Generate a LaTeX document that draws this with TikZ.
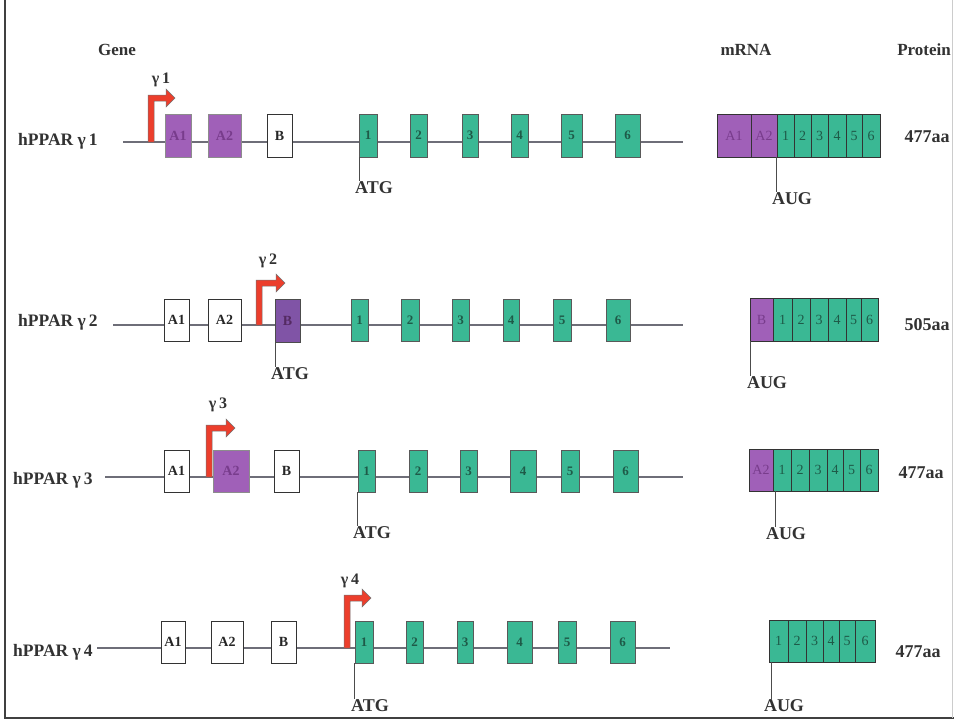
\documentclass[tikz,border=0pt]{standalone}
\usepackage{fontspec}
\setmainfont{Liberation Serif}
\usetikzlibrary{arrows.meta}
\definecolor{exteal}{RGB}{58,184,148}
\definecolor{extealtxt}{RGB}{30,90,72}
\definecolor{expurple}{RGB}{160,96,184}
\definecolor{expurpletxt}{RGB}{120,60,140}
\definecolor{exdpurple}{RGB}{128,84,166}
\definecolor{promred}{RGB}{236,62,44}
\definecolor{inktext}{RGB}{50,50,50}
\definecolor{geneline}{RGB}{110,110,120}
\newcommand\boxat[7]{\node[#6, minimum width={(#3)-(#2)}, minimum height={(#5)-(#4)}] (#1) at ({((#2)+(#3))/2},{((#4)+(#5))/2}) {#7};}
\newcommand\promarrow[4]{\filldraw[promred, draw=black!55, line width=0.5pt]
  ({#1-3},#2) -- ({#1-3},{#3-3}) -- ({#4-9},{#3-3}) -- ({#4-9},{#3-9}) -- (#4,#3)
  -- ({#4-9},{#3+9}) -- ({#4-9},{#3+3}) -- ({#1+3},{#3+3}) -- ({#1+3},#2) -- cycle;}
\tikzset{
  exon/.style={draw=black!65, fill=exteal, line width=0.6pt, inner sep=0pt,
    font=\fontsize{13}{13}\selectfont\bfseries, text=extealtxt},
  pexon/.style={draw=black!45, fill=expurple, line width=0.6pt, inner sep=0pt,
    font=\fontsize{14}{14}\selectfont\bfseries, text=expurpletxt},
  dpexon/.style={draw=black!70, fill=exdpurple, line width=0.8pt, inner sep=0pt,
    font=\fontsize{14}{14}\selectfont\bfseries, text=expurpletxt!70!black},
  wexon/.style={draw=black!80, fill=white, line width=0.7pt, inner sep=0pt,
    font=\fontsize{14}{14}\selectfont\bfseries, text=black!85},
  mseg/.style={draw=black!80, fill=exteal, line width=0.7pt, inner sep=0pt,
    font=\fontsize{14}{14}\selectfont, text=extealtxt},
  mpseg/.style={draw=black!80, fill=expurple, line width=0.7pt, inner sep=0pt,
    font=\fontsize{14}{14}\selectfont, text=expurpletxt},
  gline/.style={geneline, line width=1.1pt},
  tick/.style={black!70, line width=0.6pt},
  rowlabel/.style={anchor=west, inner sep=0pt, text=inktext, font=\fontsize{17.5}{19}\selectfont\bfseries},
  head/.style={inner sep=0pt, text=inktext, font=\fontsize{17}{19}\selectfont\bfseries},
  codon/.style={inner sep=0pt, anchor=north, text=inktext, font=\fontsize{18}{20}\selectfont\bfseries},
  prom/.style={inner sep=0pt, text=inktext, font=\fontsize{16}{18}\selectfont\bfseries},
  aa/.style={inner sep=0pt, text=inktext, font=\fontsize{18}{20}\selectfont\bfseries}
}
\begin{document}
\begin{tikzpicture}[x=1pt,y=-1pt]
\useasboundingbox (0,0) rectangle (954,721);
\fill[white] (0,0) rectangle (954,721);
% frame
\draw[black!75, line width=1.2pt] (5,0) -- (5,718) -- (954,718);
\draw[black!20, line width=0.8pt] (952.5,0) -- (952.5,718);

% headers
\node[head] (hgene) at (117,50) {Gene};
\node[head] (hmrna) at (746,50) {mRNA};
\node[head] (hprot) at (924,50) {Protein};

% ================= Row 1 =================
\node[rowlabel] (lab1) at (18,141) {hPPAR γ\,1};
\coordinate (r1s) at (123,142);
\coordinate (r1t) at (683,142);
\draw[gline] (r1s) -- (r1t);
\promarrow{151}{142}{98}{175}
\node[prom] (g1) at (161,80) {γ\,1};
\boxat{r1A1}{165}{191}{114}{157}{pexon}{A1}
\boxat{r1A2}{208}{241}{114}{157}{pexon}{A2}
\boxat{r1B}{267}{292}{114}{157}{wexon}{B}
\boxat{r1e1}{359}{377}{114}{157}{exon}{1}
\boxat{r1e2}{410}{427}{114}{157}{exon}{2}
\boxat{r1e3}{462}{478}{114}{157}{exon}{3}
\boxat{r1e4}{511}{528}{114}{157}{exon}{4}
\boxat{r1e5}{561}{582}{114}{157}{exon}{5}
\boxat{r1e6}{615}{640}{114}{157}{exon}{6}
\node[codon] (r1atg) at (374,181) {ATG};
\draw[tick] ([xshift=1pt]r1e1.south west) -- ([xshift=1pt]r1e1.south west |- r1atg.north);
\boxat{r1mA1}{717}{751}{114}{157}{mpseg}{A1}
\boxat{r1mA2}{751}{777}{114}{157}{mpseg}{A2}
\boxat{r1m1}{777}{794}{114}{157}{mseg}{1}
\boxat{r1m2}{794}{811}{114}{157}{mseg}{2}
\boxat{r1m3}{811}{828}{114}{157}{mseg}{3}
\boxat{r1m4}{828}{846}{114}{157}{mseg}{4}
\boxat{r1m5}{846}{862}{114}{157}{mseg}{5}
\boxat{r1m6}{862}{880}{114}{157}{mseg}{6}
\node[codon] (r1aug) at (792,192) {AUG};
\draw[tick] (r1m1.south west) -- (r1m1.south west |- r1aug.north);
\node[aa] (r1aa) at (927,137) {477aa};

% ================= Row 2 =================
\node[rowlabel] (lab2) at (18,322) {hPPAR γ\,2};
\coordinate (r2s) at (113,325);
\coordinate (r2t) at (683,325);
\draw[gline] (r2s) -- (r2t);
\boxat{r2A1}{164}{189}{299}{341}{wexon}{A1}
\boxat{r2A2}{208}{241}{299}{341}{wexon}{A2}
\promarrow{259}{325}{283}{285}
\node[prom] (g2) at (268,261) {γ\,2};
\boxat{r2B}{275}{300}{299}{342}{dpexon}{B}
\boxat{r2e1}{351}{368}{299}{341}{exon}{1}
\boxat{r2e2}{401}{419}{299}{341}{exon}{2}
\boxat{r2e3}{452}{469}{299}{341}{exon}{3}
\boxat{r2e4}{503}{519}{299}{341}{exon}{4}
\boxat{r2e5}{553}{571}{299}{341}{exon}{5}
\boxat{r2e6}{606}{630}{299}{341}{exon}{6}
\node[codon] (r2atg) at (290,367) {ATG};
\draw[tick] ([xshift=1pt]r2B.south west) -- ([xshift=1pt]r2B.south west |- r2atg.north);
\boxat{r2mB}{750}{773}{298}{341}{mpseg}{B}
\boxat{r2m1}{773}{792}{298}{341}{mseg}{1}
\boxat{r2m2}{792}{810}{298}{341}{mseg}{2}
\boxat{r2m3}{810}{828}{298}{341}{mseg}{3}
\boxat{r2m4}{828}{846}{298}{341}{mseg}{4}
\boxat{r2m5}{846}{861}{298}{341}{mseg}{5}
\boxat{r2m6}{861}{878}{298}{341}{mseg}{6}
\node[codon] (r2aug) at (767,376) {AUG};
\draw[tick] ([xshift=1pt]r2mB.south west) -- ([xshift=1pt]r2mB.south west |- r2aug.north);
\node[aa] (r2aa) at (927,325) {505aa};

% ================= Row 3 =================
\node[rowlabel] (lab3) at (13,480) {hPPAR γ\,3};
\coordinate (r3s) at (105,477);
\coordinate (r3t) at (683,477);
\draw[gline] (r3s) -- (r3t);
\boxat{r3A1}{164}{189}{450}{492}{wexon}{A1}
\promarrow{209}{477}{428}{235}
\node[prom] (g3) at (218,405) {γ\,3};
\boxat{r3A2}{213}{249}{450}{492}{pexon}{A2}
\boxat{r3B}{274}{299}{450}{492}{wexon}{B}
\boxat{r3e1}{358}{375}{450}{492}{exon}{1}
\boxat{r3e2}{409}{427}{450}{492}{exon}{2}
\boxat{r3e3}{460}{477}{450}{492}{exon}{3}
\boxat{r3e4}{510}{536}{450}{492}{exon}{4}
\boxat{r3e5}{561}{579}{450}{492}{exon}{5}
\boxat{r3e6}{613}{638}{450}{492}{exon}{6}
\node[codon] (r3atg) at (372,526) {ATG};
\draw[tick] (r3e1.south west) -- (r3e1.south west |- r3atg.north);
\boxat{r3mA2}{749}{773}{449}{491}{mpseg}{A2}
\boxat{r3m1}{773}{791}{449}{491}{mseg}{1}
\boxat{r3m2}{791}{809}{449}{491}{mseg}{2}
\boxat{r3m3}{809}{827}{449}{491}{mseg}{3}
\boxat{r3m4}{827}{843}{449}{491}{mseg}{4}
\boxat{r3m5}{843}{860}{449}{491}{mseg}{5}
\boxat{r3m6}{860}{878}{449}{491}{mseg}{6}
\node[codon] (r3aug) at (786,527) {AUG};
\draw[tick] ([xshift=3pt]r3m1.south west) -- ([xshift=3pt]r3m1.south west |- r3aug.north);
\node[aa] (r3aa) at (921,473) {477aa};

% ================= Row 4 =================
\node[rowlabel] (lab4) at (13,652) {hPPAR γ\,4};
\coordinate (r4s) at (97,648);
\coordinate (r4t) at (670,648);
\draw[gline] (r4s) -- (r4t);
\boxat{r4A1}{161}{185}{621}{663}{wexon}{A1}
\boxat{r4A2}{211}{243}{621}{663}{wexon}{A2}
\boxat{r4B}{271}{296}{621}{663}{wexon}{B}
\promarrow{347}{648}{598}{371}
\node[prom] (g4) at (350,581) {γ\,4};
\boxat{r4e1}{355}{373}{621}{663}{exon}{1}
\boxat{r4e2}{406}{423}{621}{663}{exon}{2}
\boxat{r4e3}{457}{473}{621}{663}{exon}{3}
\boxat{r4e4}{507}{532}{621}{663}{exon}{4}
\boxat{r4e5}{558}{576}{621}{663}{exon}{5}
\boxat{r4e6}{610}{635}{621}{663}{exon}{6}
\node[codon] (r4atg) at (370,699) {ATG};
\draw[tick] (r4e1.south west) -- (r4e1.south west |- r4atg.north);
\boxat{r4m1}{769}{788}{620}{662}{mseg}{1}
\boxat{r4m2}{788}{806}{620}{662}{mseg}{2}
\boxat{r4m3}{806}{823}{620}{662}{mseg}{3}
\boxat{r4m4}{823}{839}{620}{662}{mseg}{4}
\boxat{r4m5}{839}{855}{620}{662}{mseg}{5}
\boxat{r4m6}{855}{875}{620}{662}{mseg}{6}
\node[codon] (r4aug) at (784,699) {AUG};
\draw[tick] ([xshift=3pt]r4m1.south west) -- ([xshift=3pt]r4m1.south west |- r4aug.north);
\node[aa] (r4aa) at (918,652) {477aa};
\end{tikzpicture}
\end{document}
